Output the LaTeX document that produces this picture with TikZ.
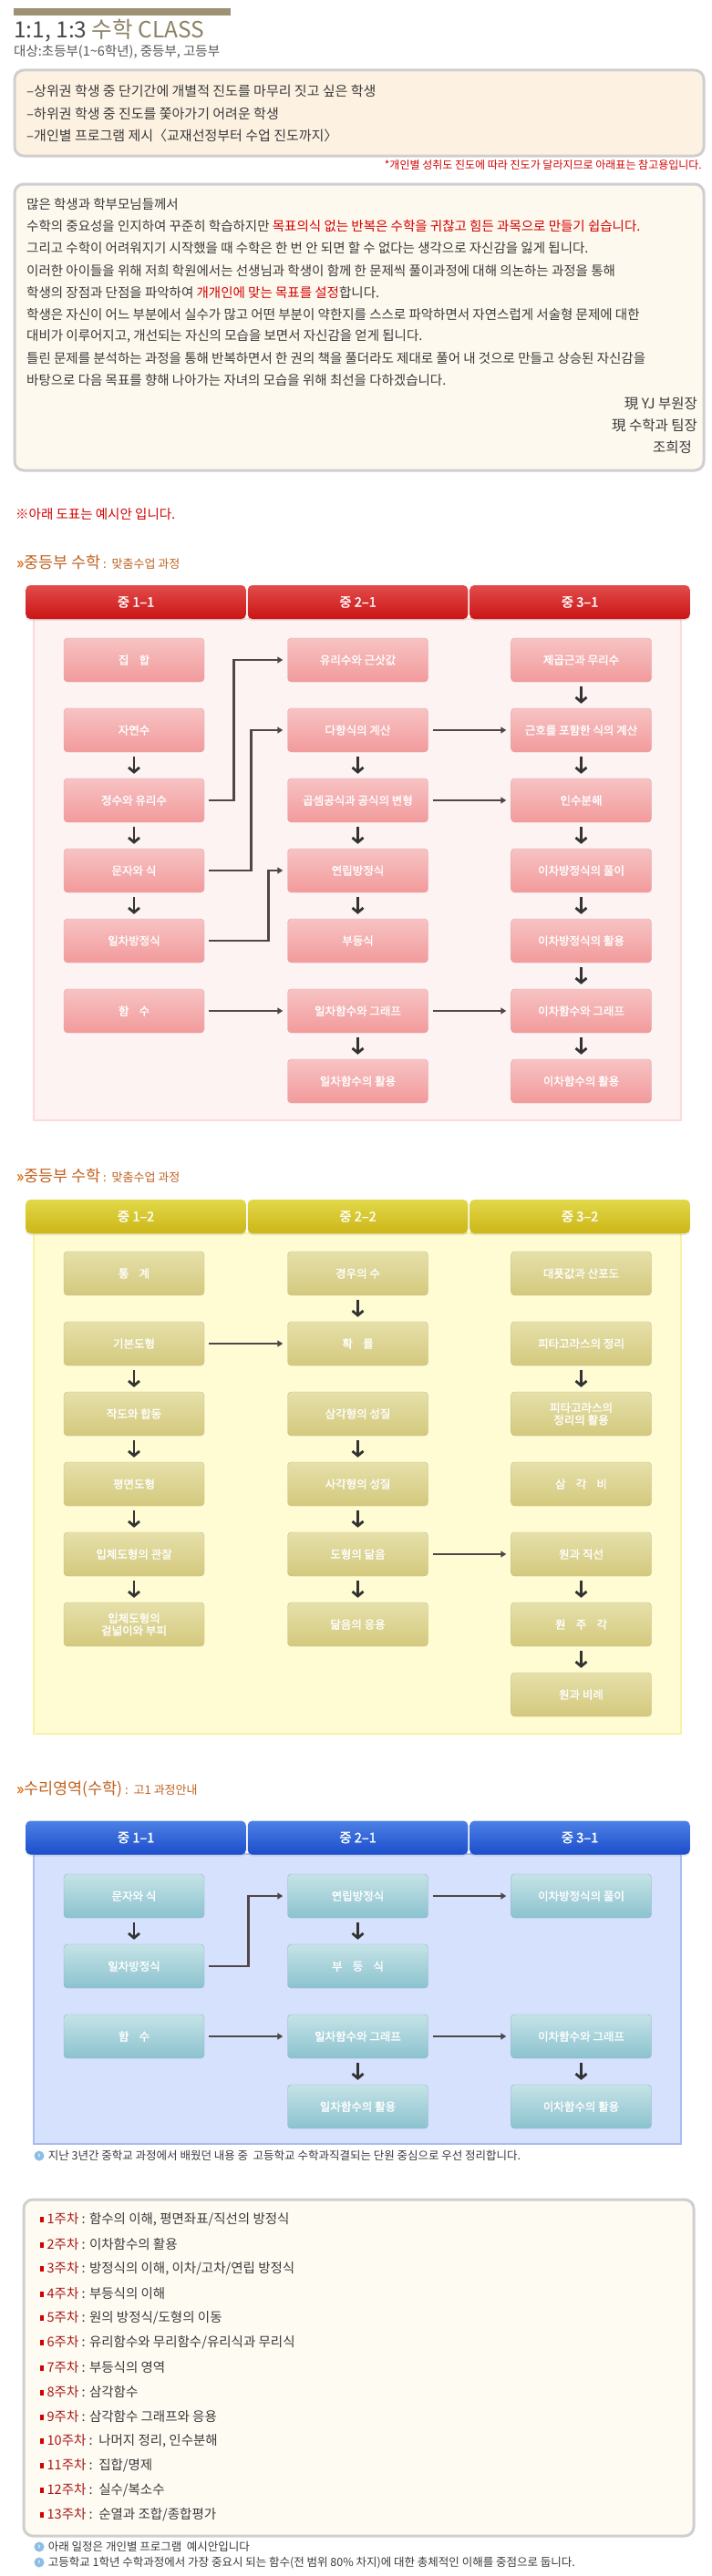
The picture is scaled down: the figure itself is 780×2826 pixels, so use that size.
\documentclass[tikz,border=0pt]{standalone}
\usepackage{fontspec}
\setmainfont{Noto Sans CJK KR}
\newfontfamily\heavykr{Noto Sans CJK KR}[FakeBold=1.6]
\usepackage{xcolor}
\usetikzlibrary{arrows.meta,positioning,shadows}
\definecolor{Khaki}{HTML}{9E9274}
\definecolor{TitleDark}{HTML}{4A4A4A}
\definecolor{TitleKhaki}{HTML}{8C8266}
\definecolor{Ink}{HTML}{3A3A3A}
\definecolor{NoteRed}{HTML}{D40000}
\definecolor{MemoEdge}{HTML}{CFCFCF}
\definecolor{MemoPeach}{HTML}{FDF2E2}
\definecolor{MemoCream}{HTML}{FDF9EE}
\definecolor{HeadOrange}{HTML}{C0621E}
\definecolor{ArrowOrange}{HTML}{E27828}
\definecolor{RedTop}{HTML}{E24C4C}
\definecolor{RedBot}{HTML}{CB1414}
\definecolor{RedPanel}{HTML}{FEF3F3}
\definecolor{RedPanelEdge}{HTML}{FCDADA}
\definecolor{PinkTop}{HTML}{F7C3C3}
\definecolor{PinkBot}{HTML}{F29A9B}
\definecolor{PinkEdge}{HTML}{D9A9A9}
\definecolor{YelTop}{HTML}{E1D84A}
\definecolor{YelBot}{HTML}{CDB617}
\definecolor{YelPanel}{HTML}{FFFCD3}
\definecolor{YelPanelEdge}{HTML}{F8F2A6}
\definecolor{OliveTop}{HTML}{E6E0AA}
\definecolor{OliveBot}{HTML}{D3C87D}
\definecolor{OliveEdge}{HTML}{C4BC90}
\definecolor{BluTop}{HTML}{4D80E4}
\definecolor{BluBot}{HTML}{1B4ECB}
\definecolor{BluPanel}{HTML}{D6E1FD}
\definecolor{BluPanelEdge}{HTML}{A8BCF0}
\definecolor{TealTop}{HTML}{C5E3E7}
\definecolor{TealBot}{HTML}{8BC2CE}
\definecolor{TealEdge}{HTML}{93B4C2}
\definecolor{LinkDark}{HTML}{4F4747}
\definecolor{DownDark}{HTML}{333333}
\definecolor{IconBlue}{HTML}{8CBDE6}
\definecolor{WeekRed}{HTML}{A81818}
\definecolor{ListCream}{HTML}{FEFBF3}
\tikzset{
  memo/.style={rounded corners=10pt, draw=MemoEdge, line width=3pt},
  body/.style={anchor=west, inner sep=0pt, text=Ink, font=\fontsize{14.5}{17}\selectfont},
  heading/.style={anchor=west, inner sep=0pt, text=HeadOrange},
  head/.style={
    rounded corners=5pt,
    minimum width=241.5pt,
    minimum height=37pt,
    inner sep=0pt,
    text=white,
    font=\heavykr\fontsize{14.5}{16}\selectfont,
    drop shadow={opacity=0.18, shadow xshift=0pt, shadow yshift=-2pt}
  },
  redhead/.style={head, top color=RedTop, bottom color=RedBot},
  yelhead/.style={head, top color=YelTop, bottom color=YelBot},
  bluhead/.style={head, top color=BluTop, bottom color=BluBot},
  unit/.style={
    rounded corners=4pt,
    minimum width=154pt,
    minimum height=48pt,
    inner sep=0pt,
    align=center,
    text=white,
    font=\heavykr\fontsize{12.5}{13.5}\selectfont
  },
  pinkunit/.style={unit, draw=PinkEdge, top color=PinkTop, bottom color=PinkBot},
  oliveunit/.style={unit, draw=OliveEdge, top color=OliveTop, bottom color=OliveBot},
  tealunit/.style={unit, draw=TealEdge, top color=TealTop, bottom color=TealBot},
  link/.style={-{Triangle[length=6pt, width=7pt]}, line width=2.8pt, draw=LinkDark},
  down/.style={-{Straight Barb[length=5pt, width=12pt]}, line width=2.8pt, draw=DownDark},
  icon/.style={circle, fill=IconBlue, minimum size=11pt, inner sep=0pt, text=white, font=\fontsize{9}{9}\selectfont\bfseries},
  note/.style={anchor=west, inner sep=0pt, text=Ink, font=\fontsize{12.5}{14}\selectfont},
  week/.style={anchor=west, inner sep=0pt, text=Ink, font=\fontsize{14.5}{16}\selectfont}
}
\newcommand{\wk}[1]{{\color{NoteRed}\rule[1.5pt]{3.5pt}{6pt}}\hspace{4pt}{\color{WeekRed}#1}}

\begin{document}
\begin{tikzpicture}[x=1pt, y=-1pt]
\useasboundingbox[fill=white] (0,0) rectangle (780,2826);

% title
\fill[Khaki] (15,9) rectangle (253,17);
\node[anchor=base west, inner sep=0pt, font=\fontsize{24.5}{28}\selectfont] (title) at (15,42)
  {{\color{TitleDark}1:1, 1:3} {\color{TitleKhaki}수학 CLASS}};
\node[anchor=west, inner sep=0pt, text=Ink!85, font=\fontsize{14.5}{16}\selectfont] (target) at (15,57)
  {대상:초등부(1\textasciitilde6학년), 중등부, 고등부};

% who it is for
\draw[memo, fill=MemoPeach] (16,77) rectangle (772,171);
\node[body, font=\fontsize{15}{17}\selectfont] (w1) at (29,100) {–상위권 학생 중 단기간에 개별적 진도를 마무리 짓고 싶은 학생};
\node[body, font=\fontsize{15}{17}\selectfont] (w2) at (29,125) {–하위권 학생 중 진도를 쫓아가기 어려운 학생};
\node[body, font=\fontsize{15}{17}\selectfont] (w3) at (29,149) {–개인별 프로그램 제시〈교재선정부터 수업 진도까지〉};
\node[anchor=east, inner sep=0pt, text=NoteRed, font=\fontsize{12}{14}\selectfont] (ref) at (770,181)
  {*개인별 성취도 진도에 따라 진도가 달라지므로 아래표는 참고용입니다.};

% letter
\draw[memo, fill=MemoCream] (16,202) rectangle (772,516);
\node[body] (p1) at (29,224) {많은 학생과 학부모님들께서};
\node[body] (p2) at (29,248) {수학의 중요성을 인지하여 꾸준히 학습하지만 {\color{NoteRed}목표의식 없는 반복은 수학을 귀찮고 힘든 과목으로 만들기 쉽습니다.}};
\node[body] (p3) at (29,272) {그리고 수학이 어려워지기 시작했을 때 수학은 한 번 안 되면 할 수 없다는 생각으로 자신감을 잃게 됩니다.};
\node[body] (p4) at (29,297) {이러한 아이들을 위해 저희 학원에서는 선생님과 학생이 함께 한 문제씩 풀이과정에 대해 의논하는 과정을 통해};
\node[body] (p5) at (29,321) {학생의 장점과 단점을 파악하여 {\color{NoteRed}개개인에 맞는 목표를 설정}합니다.};
\node[body] (p6) at (29,345) {학생은 자신이 어느 부분에서 실수가 많고 어떤 부분이 약한지를 스스로 파악하면서 자연스럽게 서술형 문제에 대한};
\node[body] (p7) at (29,369) {대비가 이루어지고, 개선되는 자신의 모습을 보면서 자신감을 얻게 됩니다.};
\node[body] (p8) at (29,393) {틀린 문제를 분석하는 과정을 통해 반복하면서 한 권의 책을 풀더라도 제대로 풀어 내 것으로 만들고 상승된 자신감을};
\node[body] (p9) at (29,417) {바탕으로 다음 목표를 향해 나아가는 자녀의 모습을 위해 최선을 다하겠습니다.};
\node[body, anchor=east, font=\fontsize{15.5}{17}\selectfont] (s1) at (765,443) {現 YJ 부원장};
\node[body, anchor=east, font=\fontsize{15.5}{17}\selectfont] (s2) at (765,467) {現 수학과 팀장};
\node[body, anchor=east, font=\fontsize{15.5}{17}\selectfont] (s3) at (759,491) {조희정};

\node[anchor=west, inner sep=0pt, text=NoteRed, font=\fontsize{14.5}{16}\selectfont] (sample) at (17,564) {※아래 도표는 예시안 입니다.};

% ---- middle school, first term
\node[heading] (hd1) at (18,617)
  {{\color{ArrowOrange}\heavykr\fontsize{17}{20}\selectfont »}{\fontsize{17.5}{20}\selectfont 중등부 수학} {\fontsize{13}{15}\selectfont :\, 맞춤수업 과정}};
\draw[fill=RedPanel, draw=RedPanelEdge, line width=1.5pt] (37,679) rectangle (747,1229);
\node[redhead] (rh1) at (149,660.5) {중 1–1};
\node[redhead] (rh2) at (392.5,660.5) {중 2–1};
\node[redhead] (rh3) at (636,660.5) {중 3–1};

\node[pinkunit] (rA1) at (147,724) {집\hspace{0.9em}합};
\node[pinkunit] (rA2) at (147,801) {자연수};
\node[pinkunit] (rA3) at (147,878) {정수와 유리수};
\node[pinkunit] (rA4) at (147,955) {문자와 식};
\node[pinkunit] (rA5) at (147,1032) {일차방정식};
\node[pinkunit] (rA6) at (147,1109) {함\hspace{0.9em}수};
\node[pinkunit] (rB1) at (392.5,724) {유리수와 근삿값};
\node[pinkunit] (rB2) at (392.5,801) {다항식의 계산};
\node[pinkunit] (rB3) at (392.5,878) {곱셈공식과 공식의 변형};
\node[pinkunit] (rB4) at (392.5,955) {연립방정식};
\node[pinkunit] (rB5) at (392.5,1032) {부등식};
\node[pinkunit] (rB6) at (392.5,1109) {일차함수와 그래프};
\node[pinkunit] (rB7) at (392.5,1186) {일차함수의 활용};
\node[pinkunit] (rC1) at (637.5,724) {제곱근과 무리수};
\node[pinkunit] (rC2) at (637.5,801) {근호를 포함한 식의 계산};
\node[pinkunit] (rC3) at (637.5,878) {인수분해};
\node[pinkunit] (rC4) at (637.5,955) {이차방정식의 풀이};
\node[pinkunit] (rC5) at (637.5,1032) {이차방정식의 활용};
\node[pinkunit] (rC6) at (637.5,1109) {이차함수와 그래프};
\node[pinkunit] (rC7) at (637.5,1186) {이차함수의 활용};

\draw[down] ([yshift=-5pt]rA2.south) -- ([yshift=5pt]rA3.north);
\draw[down] ([yshift=-5pt]rA3.south) -- ([yshift=5pt]rA4.north);
\draw[down] ([yshift=-5pt]rA4.south) -- ([yshift=5pt]rA5.north);
\draw[down] ([yshift=-5pt]rB2.south) -- ([yshift=5pt]rB3.north);
\draw[down] ([yshift=-5pt]rB3.south) -- ([yshift=5pt]rB4.north);
\draw[down] ([yshift=-5pt]rB4.south) -- ([yshift=5pt]rB5.north);
\draw[down] ([yshift=-5pt]rB6.south) -- ([yshift=5pt]rB7.north);
\draw[down] ([yshift=-5pt]rC1.south) -- ([yshift=5pt]rC2.north);
\draw[down] ([yshift=-5pt]rC2.south) -- ([yshift=5pt]rC3.north);
\draw[down] ([yshift=-5pt]rC3.south) -- ([yshift=5pt]rC4.north);
\draw[down] ([yshift=-5pt]rC4.south) -- ([yshift=5pt]rC5.north);
\draw[down] ([yshift=-5pt]rC5.south) -- ([yshift=5pt]rC6.north);
\draw[down] ([yshift=-5pt]rC6.south) -- ([yshift=5pt]rC7.north);

\draw[link] ([xshift=5pt]rA3.east) -- ++(27,0) |- ([xshift=-5pt]rB1.west);
\draw[link] ([xshift=5pt]rA4.east) -- ++(46,0) |- ([xshift=-5pt]rB2.west);
\draw[link] ([xshift=5pt]rA5.east) -- ++(65,0) |- ([xshift=-5pt]rB4.west);
\draw[link] ([xshift=5pt]rA6.east) -- ([xshift=-5pt]rB6.west);
\draw[link] ([xshift=5pt]rB2.east) -- ([xshift=-5pt]rC2.west);
\draw[link] ([xshift=5pt]rB3.east) -- ([xshift=-5pt]rC3.west);
\draw[link] ([xshift=5pt]rB6.east) -- ([xshift=-5pt]rC6.west);

% ---- middle school, second term
\node[heading] (hd2) at (18,1290)
  {{\color{ArrowOrange}\heavykr\fontsize{17}{20}\selectfont »}{\fontsize{17.5}{20}\selectfont 중등부 수학} {\fontsize{13}{15}\selectfont :\, 맞춤수업 과정}};
\draw[fill=YelPanel, draw=YelPanelEdge, line width=1.5pt] (37,1353) rectangle (747,1902);
\node[yelhead] (yh1) at (149,1334.5) {중 1–2};
\node[yelhead] (yh2) at (392.5,1334.5) {중 2–2};
\node[yelhead] (yh3) at (636,1334.5) {중 3–2};

\node[oliveunit] (yA1) at (147,1397) {통\hspace{0.9em}계};
\node[oliveunit] (yA2) at (147,1474) {기본도형};
\node[oliveunit] (yA3) at (147,1551) {작도와 합동};
\node[oliveunit] (yA4) at (147,1628) {평면도형};
\node[oliveunit] (yA5) at (147,1705) {입체도형의 관찰};
\node[oliveunit] (yA6) at (147,1782) {입체도형의\\겉넓이와 부피};
\node[oliveunit] (yB1) at (392.5,1397) {경우의 수};
\node[oliveunit] (yB2) at (392.5,1474) {확\hspace{0.9em}률};
\node[oliveunit] (yB3) at (392.5,1551) {삼각형의 성질};
\node[oliveunit] (yB4) at (392.5,1628) {사각형의 성질};
\node[oliveunit] (yB5) at (392.5,1705) {도형의 닮음};
\node[oliveunit] (yB6) at (392.5,1782) {닮음의 응용};
\node[oliveunit] (yC1) at (637.5,1397) {대푯값과 산포도};
\node[oliveunit] (yC2) at (637.5,1474) {피타고라스의 정리};
\node[oliveunit] (yC3) at (637.5,1551) {피타고라스의\\정리의 활용};
\node[oliveunit] (yC4) at (637.5,1628) {삼\hspace{0.9em}각\hspace{0.9em}비};
\node[oliveunit] (yC5) at (637.5,1705) {원과 직선};
\node[oliveunit] (yC6) at (637.5,1782) {원\hspace{0.9em}주\hspace{0.9em}각};
\node[oliveunit] (yC7) at (637.5,1859) {원과 비례};

\draw[down] ([yshift=-5pt]yA2.south) -- ([yshift=5pt]yA3.north);
\draw[down] ([yshift=-5pt]yA3.south) -- ([yshift=5pt]yA4.north);
\draw[down] ([yshift=-5pt]yA4.south) -- ([yshift=5pt]yA5.north);
\draw[down] ([yshift=-5pt]yA5.south) -- ([yshift=5pt]yA6.north);
\draw[down] ([yshift=-5pt]yB1.south) -- ([yshift=5pt]yB2.north);
\draw[down] ([yshift=-5pt]yB3.south) -- ([yshift=5pt]yB4.north);
\draw[down] ([yshift=-5pt]yB4.south) -- ([yshift=5pt]yB5.north);
\draw[down] ([yshift=-5pt]yB5.south) -- ([yshift=5pt]yB6.north);
\draw[down] ([yshift=-5pt]yC2.south) -- ([yshift=5pt]yC3.north);
\draw[down] ([yshift=-5pt]yC5.south) -- ([yshift=5pt]yC6.north);
\draw[down] ([yshift=-5pt]yC6.south) -- ([yshift=5pt]yC7.north);

\draw[link] ([xshift=5pt]yA2.east) -- ([xshift=-5pt]yB2.west);
\draw[link] ([xshift=5pt]yB5.east) -- ([xshift=-5pt]yC5.west);

% ---- high school 1
\node[heading] (hd3) at (18,1963)
  {{\color{ArrowOrange}\heavykr\fontsize{17}{20}\selectfont »}{\fontsize{17.5}{20}\selectfont 수리영역(수학)} {\fontsize{13}{15}\selectfont :\, 고1 과정안내}};
\draw[fill=BluPanel, draw=BluPanelEdge, line width=1.5pt] (37,2034) rectangle (747,2352);
\node[bluhead] (bh1) at (149,2016) {중 1–1};
\node[bluhead] (bh2) at (392.5,2016) {중 2–1};
\node[bluhead] (bh3) at (636,2016) {중 3–1};

\node[tealunit] (bA1) at (147,2080) {문자와 식};
\node[tealunit] (bA2) at (147,2157) {일차방정식};
\node[tealunit] (bA3) at (147,2234) {함\hspace{0.9em}수};
\node[tealunit] (bB1) at (392.5,2080) {연립방정식};
\node[tealunit] (bB2) at (392.5,2157) {부\hspace{0.9em}등\hspace{0.9em}식};
\node[tealunit] (bB3) at (392.5,2234) {일차함수와 그래프};
\node[tealunit] (bB4) at (392.5,2311) {일차함수의 활용};
\node[tealunit] (bC1) at (637.5,2080) {이차방정식의 풀이};
\node[tealunit] (bC3) at (637.5,2234) {이차함수와 그래프};
\node[tealunit] (bC4) at (637.5,2311) {이차함수의 활용};

\draw[down] ([yshift=-5pt]bA1.south) -- ([yshift=5pt]bA2.north);
\draw[down] ([yshift=-5pt]bB1.south) -- ([yshift=5pt]bB2.north);
\draw[down] ([yshift=-5pt]bB3.south) -- ([yshift=5pt]bB4.north);
\draw[down] ([yshift=-5pt]bC3.south) -- ([yshift=5pt]bC4.north);

\draw[link] ([xshift=5pt]bA2.east) -- ++(43,0) |- ([xshift=-5pt]bB1.west);
\draw[link] ([xshift=5pt]bB1.east) -- ([xshift=-5pt]bC1.west);
\draw[link] ([xshift=5pt]bA3.east) -- ([xshift=-5pt]bB3.west);
\draw[link] ([xshift=5pt]bB3.east) -- ([xshift=-5pt]bC3.west);

\node[icon] (i1) at (43,2365) {›};
\node[note, right=4pt of i1] (n1) {지난 3년간 중학교 과정에서 배웠던 내용 중\ \ 고등학교 수학과직결되는 단원 중심으로 우선 정리합니다.};

% ---- weekly plan
\draw[memo, fill=ListCream] (26,2413) rectangle (761,2782);
\node[week] (k1) at (44,2435) {\wk{1주차} : 함수의 이해, 평면좌표/직선의 방정식};
\node[week] (k2) at (44,2462) {\wk{2주차} : 이차함수의 활용};
\node[week] (k3) at (44,2489) {\wk{3주차} : 방정식의 이해, 이차/고차/연립 방정식};
\node[week] (k4) at (44,2516) {\wk{4주차} : 부등식의 이해};
\node[week] (k5) at (44,2543) {\wk{5주차} : 원의 방정식/도형의 이동};
\node[week] (k6) at (44,2570) {\wk{6주차} : 유리함수와 무리함수/유리식과 무리식};
\node[week] (k7) at (44,2597) {\wk{7주차} : 부등식의 영역};
\node[week] (k8) at (44,2624) {\wk{8주차} : 삼각함수};
\node[week] (k9) at (44,2651) {\wk{9주차} : 삼각함수 그래프와 응용};
\node[week] (k10) at (44,2678) {\wk{10주차} :\ \ 나머지 정리, 인수분해};
\node[week] (k11) at (44,2705) {\wk{11주차} :\ \ 집합/명제};
\node[week] (k12) at (44,2732) {\wk{12주차} :\ \ 실수/복소수};
\node[week] (k13) at (44,2759) {\wk{13주차} :\ \ 순열과 조합/종합평가};

\node[icon] (i2) at (43,2794) {›};
\node[note, right=4pt of i2] (n2) {아래 일정은 개인별 프로그램\ \ 예시안입니다};
\node[icon] (i3) at (43,2811) {›};
\node[note, right=4pt of i3] (n3) {고등학교 1학년 수학과정에서 가장 중요시 되는 함수(전 범위 80\% 차지)에 대한 총체적인 이해를 중점으로 둡니다.};
\end{tikzpicture}
\end{document}
